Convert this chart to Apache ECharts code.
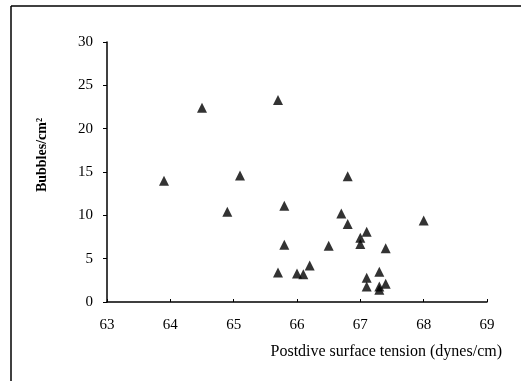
<!DOCTYPE html>
<html><head><meta charset="utf-8">
<script src="https://cdn.jsdelivr.net/npm/echarts@6/dist/echarts.min.js"></script>
<style>html,body{margin:0;padding:0;background:#fff}#c{width:521px;height:381px}</style>
</head><body><div id="c"></div>
<script>
const tension = [63.9,64.5,65.7,65.1,64.9,65.8,65.8,65.7,66.0,66.1,66.2,66.5,66.7,66.8,66.8,67.0,67.0,67.1,67.4,68.0,67.3,67.1,67.1,67.3,67.3,67.4];
const bubbles = [14.0,22.4,23.3,14.6,10.4,11.1,6.6,3.4,3.3,3.2,4.2,6.5,10.2,14.5,9.0,7.4,6.7,8.1,6.2,9.4,3.5,2.8,1.8,1.8,1.4,2.1];
const xName = 'Postdive surface tension (dynes/cm)';
const yName = 'Bubbles/cm²';
const font = 'Liberation Serif';
const chart = echarts.init(document.getElementById('c'), null, {renderer:'canvas'});
chart.setOption({
  animation:false,
  backgroundColor:'#fff',
  grid:{left:107,right:34,top:42,bottom:79},
  xAxis:{type:'value',min:63,max:69,interval:1,
    name:xName,nameLocation:'end',nameGap:15,
    nameTextStyle:{fontFamily:font,fontSize:16,color:'#000',align:'right',verticalAlign:'top',padding:[42,0,0,0]},
    axisLine:{lineStyle:{color:'#000',width:1.5}},
    axisTick:{inside:true,length:3,lineStyle:{color:'#000'}},
    axisLabel:{fontFamily:font,fontSize:15,color:'#000',margin:16},
    splitLine:{show:false}},
  yAxis:{type:'value',min:0,max:30,interval:5,
    name:yName,nameLocation:'middle',nameGap:58,nameRotate:90,
    nameTextStyle:{fontFamily:font,fontSize:14,fontWeight:'bold',color:'#000',padding:[0,0,0,34]},
    axisLine:{show:true,lineStyle:{color:'#000',width:1.5}},
    axisTick:{show:true,length:4,lineStyle:{color:'#000'}},
    axisLabel:{fontFamily:font,fontSize:15,color:'#000',margin:14},
    splitLine:{show:false}},
  series:[{type:'scatter',symbol:'triangle',symbolSize:10,
    itemStyle:{color:'#000'},
    data:tension.map((x,i)=>[x,bubbles[i]])}],
  graphic:[
    {type:'line',shape:{x1:11,y1:6,x2:521,y2:6},style:{stroke:'#000',lineWidth:1.5}},
    {type:'line',shape:{x1:11,y1:6,x2:11,y2:381},style:{stroke:'#000',lineWidth:1.5}}
  ]
});
</script></body></html>
